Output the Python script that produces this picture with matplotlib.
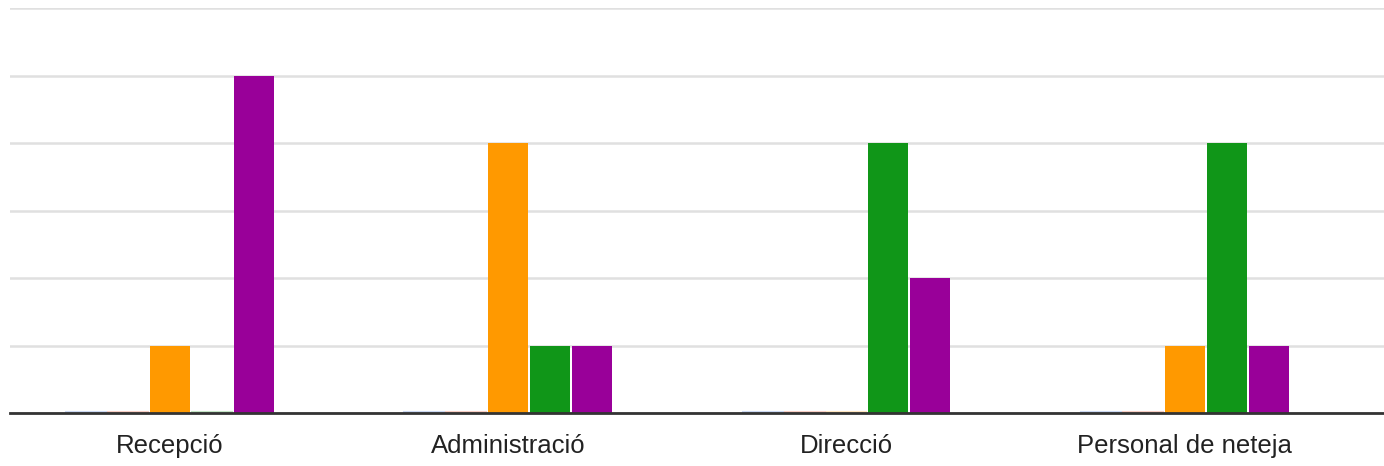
import numpy as np
import matplotlib.pyplot as plt

categories = ['Recepció', 'Administració', 'Direcció', 'Personal de neteja']
blue = [0, 0, 0, 0]
red = [0, 0, 0, 0]
orange = [1, 4, 0, 1]
green = [0, 1, 4, 4]
purple = [5, 1, 2, 1]
series = [blue, red, orange, green, purple]
colors = ['#3366cc', '#dc3912', '#ff9900', '#109618', '#990099']

plt.rcParams['font.family'] = ['Liberation Sans', 'DejaVu Sans']
fig = plt.figure(figsize=(13.84, 4.66), dpi=100)
ax = fig.add_axes([10 / 1384, 53 / 466, 1374 / 1384, 405 / 466])

x = np.arange(len(categories))
w = 0.118
step = 0.124
for i, (vals, c) in enumerate(zip(series, colors)):
    ax.bar(x + (i - 2) * step, vals, width=w, color=c, zorder=3)
    # faint baseline marks for zero values
    for xi, v in zip(x, vals):
        if v == 0:
            ax.plot([xi + (i - 2) * step - w / 2, xi + (i - 2) * step + w / 2], [0.02, 0.02],
                    color=c, alpha=0.25, lw=1.5, zorder=2)

ax.set_xlim(-0.473, 3.589)
ax.set_ylim(0, 6)
ax.set_yticks(range(0, 7))
ax.yaxis.grid(True, color='#e0e0e0', lw=1.8, zorder=0)
ax.tick_params(axis='y', left=False, labelleft=False)
ax.set_xticks(x)
ax.set_xticklabels(categories, fontsize=18.5, color='#222222')
ax.tick_params(axis='x', length=0, pad=15)
for s in ['top', 'right', 'left']:
    ax.spines[s].set_visible(False)
ax.spines['bottom'].set_color('#333333')
ax.spines['bottom'].set_linewidth(2)
ax.spines['bottom'].set_zorder(4)

fig.savefig('out.png', dpi=100)
